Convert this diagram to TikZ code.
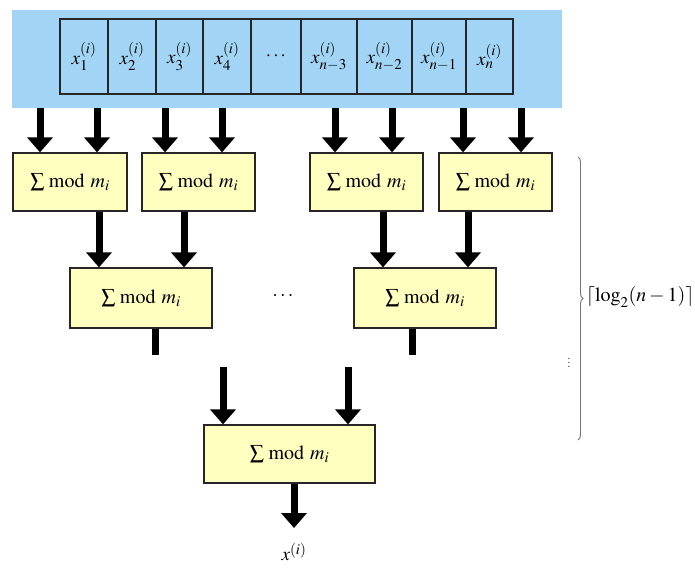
\documentclass[tikz,border=0pt]{standalone}
\usepackage{mathptmx}
\usetikzlibrary{arrows.meta,decorations.pathreplacing}
\DeclareMathSizes{19}{19}{15}{12}
\DeclareMathSizes{20}{20}{15}{12}
\definecolor{bandblue}{RGB}{162,213,245}
\definecolor{boxyellow}{RGB}{255,255,192}
\tikzset{
  cell/.style={draw=black!85, line width=1.3pt, fill=bandblue, minimum height=75pt, inner sep=0pt, font=\fontsize{19}{21}\selectfont},
  summod/.style={draw=black!85, line width=1.2pt, fill=boxyellow, inner sep=0pt, font=\fontsize{20}{22}\selectfont},
  bigarrow/.style={line width=7pt, -{Triangle[width=25pt,length=15pt]}},
  stub/.style={line width=7pt},
  plain/.style={font=\fontsize{20}{22}\selectfont}
}
\newcommand{\summ}{$\sum\,\mathrm{mod}\ m_i$}
\begin{document}
\begin{tikzpicture}[x=1pt,y=-1pt]
\useasboundingbox (0,0) rectangle (695,568);
% input band with the register cells
\node[fill=bandblue, minimum width=550pt, minimum height=98pt, inner sep=0pt] (band) at (287,59) {};
\node[cell, minimum width=48pt] (c1) at (84,56.5) {$x_1^{(i)}$};
\node[cell, minimum width=48pt] (c2) at (132,56.5) {$x_2^{(i)}$};
\node[cell, minimum width=47pt] (c3) at (179.5,56.5) {$x_3^{(i)}$};
\node[cell, minimum width=48pt] (c4) at (227,56.5) {$x_4^{(i)}$};
\node[cell, minimum width=50pt] (c5) at (276,56.5) {$\cdots$};
\node[cell, minimum width=56pt] (c6) at (329,56.5) {$x_{n-3}^{(i)}$};
\node[cell, minimum width=55pt] (c7) at (384.5,56.5) {$x_{n-2}^{(i)}$};
\node[cell, minimum width=54pt] (c8) at (439,56.5) {$x_{n-1}^{(i)}$};
\node[cell, minimum width=47pt] (c9) at (489.5,56.5) {$x_n^{(i)}$};

% first level adders
\node[summod, minimum width=114pt, minimum height=58pt] (b1) at (70,182) {\summ};
\node[summod, minimum width=113pt, minimum height=58pt] (b2) at (198.5,182) {\summ};
\node[summod, minimum width=113pt, minimum height=58pt] (b3) at (366.5,182) {\summ};
\node[summod, minimum width=113pt, minimum height=58pt] (b4) at (495.5,182) {\summ};

% second level adders
\node[summod, minimum width=142pt, minimum height=60pt] (s1) at (141,298) {\summ};
\node[summod, minimum width=142pt, minimum height=60pt] (s2) at (425,298) {\summ};
\node[plain] (mdots) at (283,296) {$\cdots$};

% final adder and result
\node[summod, minimum width=171pt, minimum height=58pt] (f) at (289.5,454) {\summ};
\node[font=\fontsize{19}{21}\selectfont, inner sep=1pt] (out) at (294,552) {$x^{(i)}$};

% column positions of the arrows
\foreach \n/\x in {a1/40,a2/97,a3/165,a4/222,a5/335,a6/392,a7/463,a8/521,
                   d1/99,d2/184,d3/383,d4/468,e1/155,e2/412,g1/223,g2/348}
  \coordinate (\n) at (\x,0);

% band to first level
\draw[bigarrow] (band.south -| a1) -- (a1 |- b1.north);
\draw[bigarrow] (band.south -| a2) -- (a2 |- b1.north);
\draw[bigarrow] (band.south -| a3) -- (a3 |- b2.north);
\draw[bigarrow] (band.south -| a4) -- (a4 |- b2.north);
\draw[bigarrow] (band.south -| a5) -- (a5 |- b3.north);
\draw[bigarrow] (band.south -| a6) -- (a6 |- b3.north);
\draw[bigarrow] (band.south -| a7) -- (a7 |- b4.north);
\draw[bigarrow] (band.south -| a8) -- (a8 |- b4.north);

% first level to second level
\draw[bigarrow] (b1.south -| d1) -- (d1 |- s1.north);
\draw[bigarrow] (b2.south -| d2) -- (d2 |- s1.north);
\draw[bigarrow] (b3.south -| d3) -- (d3 |- s2.north);
\draw[bigarrow] (b4.south -| d4) -- (d4 |- s2.north);

% outputs of the second level, continued below
\coordinate (e1end) at (155,355);
\coordinate (e2end) at (412,355);
\draw[stub] (s1.south -| e1) -- (e1end);
\draw[stub] (s2.south -| e2) -- (e2end);

% last level and final output
\coordinate (g1start) at (223,367);
\coordinate (g2start) at (348,367);
\coordinate (outtip) at (294,528);
\draw[bigarrow] (g1start) -- (g1start |- f.north);
\draw[bigarrow] (g2start) -- (g2start |- f.north);
\draw[bigarrow] (f.south -| outtip) -- (outtip);

% depth brace
\coordinate (brtop) at (578,157);
\coordinate (brbot) at (578,440);
\draw[black!55, line width=0.9pt, decorate, decoration={brace, amplitude=5pt}] (brtop) -- (brbot);
\node[plain, anchor=west, inner sep=1pt] (depth) at (585,297) {$\lceil\log_2(n-1)\rceil$};
\node[font=\fontsize{12}{14}\selectfont, inner sep=0pt] (vdots) at (569,360) {$\vdots$};
\end{tikzpicture}
\end{document}
